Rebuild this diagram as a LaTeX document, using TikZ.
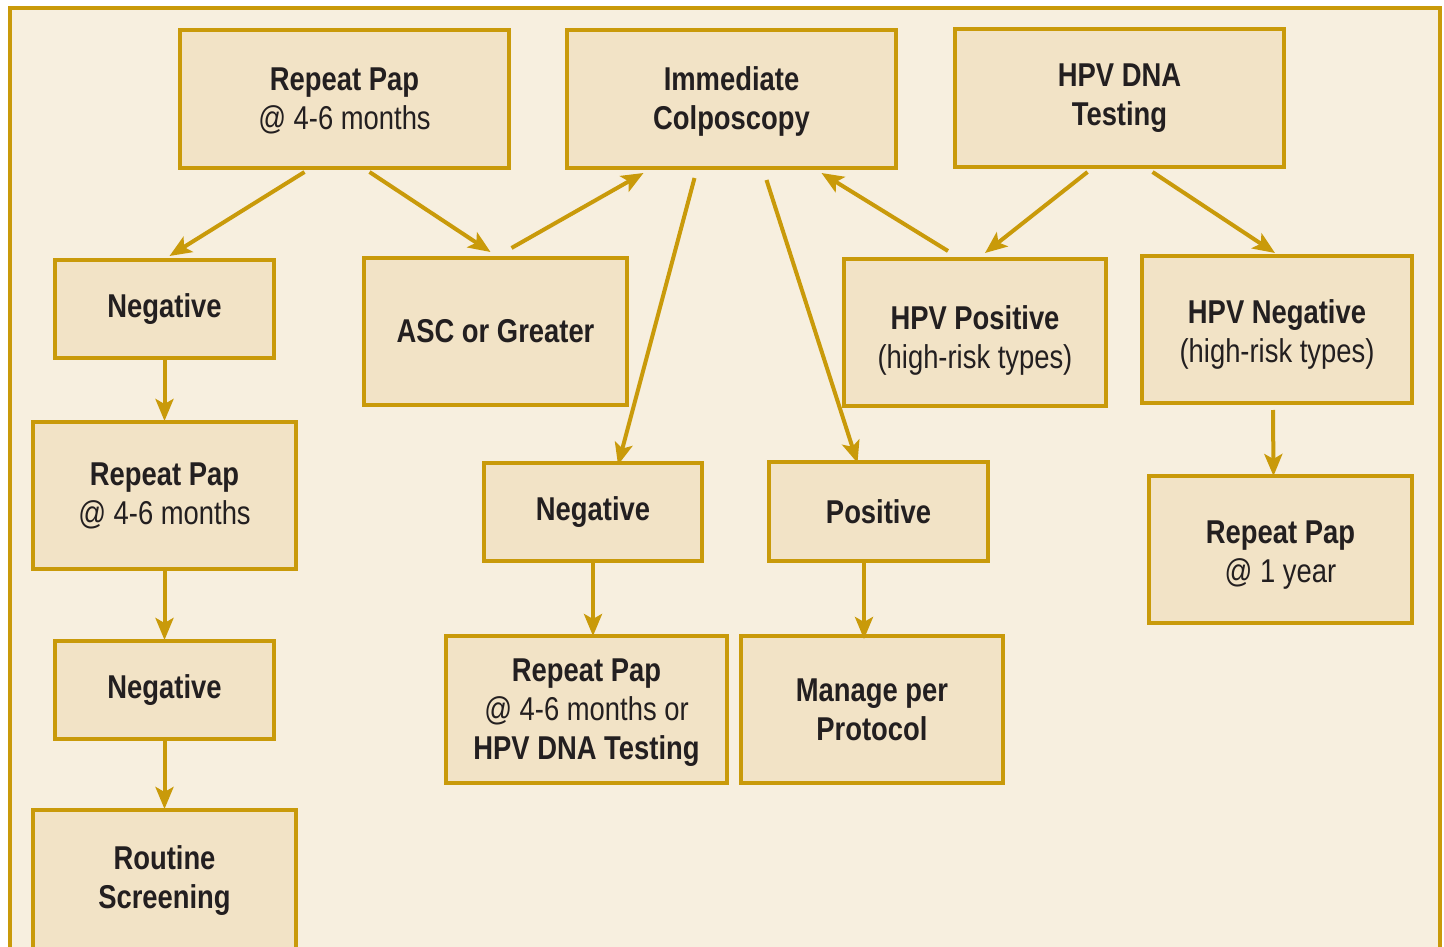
\documentclass[tikz,border=0pt]{standalone}
\usepackage{fontspec}
\setmainfont{Liberation Sans}[FakeStretch=0.83]
\usetikzlibrary{arrows.meta,calc}
\definecolor{gold}{HTML}{C99A0A}
\definecolor{boxfill}{HTML}{F2E3C6}
\definecolor{paper}{HTML}{F7EFDF}
\definecolor{ink}{HTML}{231F20}
\newcommand\boxtext[2]{\raisebox{#1}[\height][\depth]{\begin{tabular}{@{}c@{}}#2\end{tabular}}}
\tikzset{
  box/.style  = {draw=gold, line width=4pt, fill=boxfill, inner sep=0pt,
                 align=center, text=ink, font=\fontsize{33}{39}\selectfont},
  e/.style    = {-{Stealth[length=22pt,width=18pt,inset=5pt]}, line width=4pt, gold}
}

\begin{document}
\begin{tikzpicture}[x=1pt,y=-1pt]
  \useasboundingbox (0,0) rectangle (1444,947);
  \begin{scope}
  \clip (0,0) rectangle (1444,947);
  \draw[gold, line width=4pt, fill=paper] (10,8) rectangle (1440,1000);

  % top row
  \node[box, minimum width=329pt, minimum height=138pt] (rpa) at (344.5,99)
    {\boxtext{-3pt}{\textbf{Repeat Pap}\\@ 4-6 months}};
  \node[box, minimum width=329pt, minimum height=138pt] (colpo) at (731.5,99)
    {\boxtext{-3pt}{\textbf{Immediate}\\\textbf{Colposcopy}}};
  \node[box, minimum width=329pt, minimum height=138pt] (hpv) at (1119.5,98)
    {\textbf{HPV DNA}\\\textbf{Testing}};

  % second row
  \node[box, minimum width=219pt, minimum height=98pt] (nega) at (164.5,309)
    {\textbf{Negative}};
  \node[box, minimum width=263pt, minimum height=147pt] (asc) at (495.5,331.5)
    {\textbf{ASC or Greater}};
  \node[box, minimum width=262pt, minimum height=147pt] (hpvpos) at (975,332.5)
    {\boxtext{-9pt}{\textbf{HPV Positive}\\(high-risk types)}};
  \node[box, minimum width=270pt, minimum height=147pt] (hpvneg) at (1277,329.5)
    {\boxtext{-6pt}{\textbf{HPV Negative}\\(high-risk types)}};

  % third row
  \node[box, minimum width=263pt, minimum height=147pt] (rpb) at (164.5,495.5)
    {\boxtext{-2pt}{\textbf{Repeat Pap}\\@ 4-6 months}};
  \node[box, minimum width=218pt, minimum height=98pt] (negm) at (593,512)
    {\textbf{Negative}};
  \node[box, minimum width=219pt, minimum height=99pt] (pos) at (878.5,511.5)
    {\textbf{Positive}};
  \node[box, minimum width=263pt, minimum height=147pt] (rpy) at (1280.5,549.5)
    {\boxtext{-6pt}{\textbf{Repeat Pap}\\@ 1 year}};

  % bottom rows
  \node[box, minimum width=219pt, minimum height=98pt] (negb) at (164.5,690)
    {\textbf{Negative}};
  \node[box, minimum width=281pt, minimum height=147pt] (rpc) at (586.5,709.5)
    {\boxtext{-3pt}{\textbf{Repeat Pap}\\@ 4-6 months or\\\textbf{HPV DNA Testing}}};
  \node[box, minimum width=262pt, minimum height=147pt] (manage) at (872,709.5)
    {\textbf{Manage per}\\\textbf{Protocol}};
  \node[box, minimum width=263pt, minimum height=160pt] (routine) at (164.5,890)
    {\boxtext{9pt}{\textbf{Routine}\\\textbf{Screening}}};

  % arrows
  \draw[e] ($(rpa.south)+(-40,2)$) -- ($(nega.north)+(5,-2)$);
  \draw[e] ($(rpa.south)+(25,2)$) -- ($(asc.north)+(-5,-4)$);
  \draw[e] ($(asc.north)+(16,-8)$) -- ($(colpo.south)+(-88,3)$);
  \draw[e] ($(colpo.south)+(-37,8)$) -- ($(negm.north)+(25,4)$);
  \draw[e] ($(colpo.south)+(35,10)$) -- ($(pos.north)+(-21,3)$);
  \draw[e] ($(hpvpos.north)+(-27,-6)$) -- ($(colpo.south)+(90,3)$);
  \draw[e] ($(hpv.south)+(-32,3)$) -- ($(hpvpos.north)+(10,-4)$);
  \draw[e] ($(hpv.south)+(33,3)$) -- ($(hpvneg.north)+(-2,-1)$);
  \draw[e] ($(hpvneg.south)+(-4,5)$) -- ($(rpy.north)+(-7,2)$);
  \draw[e] (nega.south) -- ($(rpb.north)+(0,1)$);
  \draw[e] (rpb.south) -- ($(negb.north)+(0,1)$);
  \draw[e] (negb.south) -- ($(routine.north)+(0,1)$);
  \draw[e] (negm.south) -- ($(rpc.north)+(6.5,2)$);
  \draw[e] ($(pos.south)+(-14.5,-2)$) -- ($(manage.north)+(-8,5)$);
  \end{scope}
\end{tikzpicture}
\end{document}
